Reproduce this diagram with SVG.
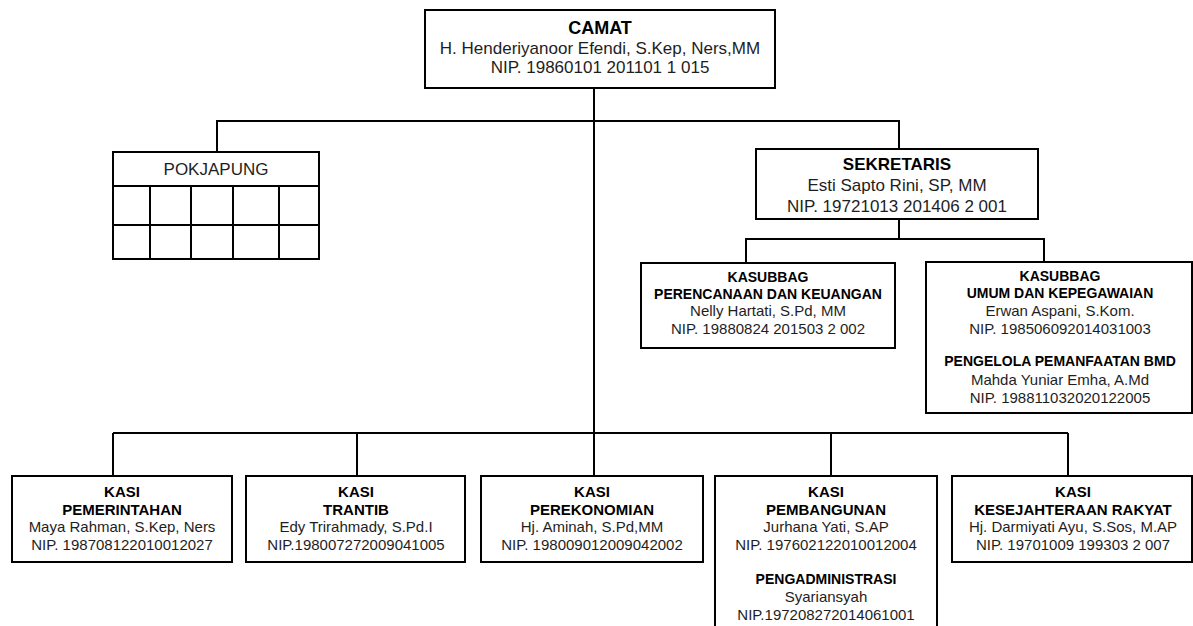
<svg xmlns="http://www.w3.org/2000/svg" width="1193" height="626" viewBox="0 0 1193 626">
<style>
.box{fill:#fff;stroke:#000;stroke-width:2}
.ln{fill:none;stroke:#000;stroke-width:2}
text{font-family:"Liberation Sans",Arial,sans-serif;text-anchor:middle;fill:#1e1e1e}
.b{font-weight:bold;fill:#000}
.r17{font-size:17px}
.r15{font-size:15px}
.b18{font-size:18px}
.b17{font-size:17px}
.b15{font-size:15px}
.b14{font-size:14px}
</style>
<rect width="1193" height="626" fill="#fff"/>
<g id="connectors">
<path class="ln" d="M594 88V433"/>
<path class="ln" d="M217 152V121H899V149"/>
<path class="ln" d="M899 219V239"/>
<path class="ln" d="M746 263V239H1044V262"/>
<path class="ln" d="M113 433H1068"/>
<path class="ln" d="M113 433V476M357 433V476M594 433V476M831 433V476M1068 433V476"/>
</g>
<g id="camat">
<rect class="box" x="425" y="10" width="350" height="78"/>
<text class="b b18" x="600" y="34">CAMAT</text>
<text class="r17" x="600" y="54">H. Henderiyanoor Efendi, S.Kep, Ners,MM</text>
<text class="r17" x="600" y="73">NIP. 19860101 201101 1 015</text>
</g>
<g id="pokjapung">
<rect class="box" x="113" y="152" width="206" height="107"/>
<path class="ln" d="M113 186H319M113 225H319M150 186V259M191 186V259M233 186V259M279 186V259"/>
<text class="r17" x="216" y="175">POKJAPUNG</text>
</g>
<g id="sekretaris">
<rect class="box" x="756" y="149" width="282" height="70"/>
<text class="b b17" x="897" y="170">SEKRETARIS</text>
<text class="r17" x="897" y="191">Esti Sapto Rini, SP, MM</text>
<text class="r17" x="897" y="212">NIP. 19721013 201406 2 001</text>
</g>
<g id="kasubbag-perencanaan">
<rect class="box" x="641" y="263" width="254" height="85"/>
<text class="b b14" x="768" y="282">KASUBBAG</text>
<text class="b b14" x="768" y="299">PERENCANAAN DAN KEUANGAN</text>
<text class="r15" x="768" y="316">Nelly Hartati, S.Pd, MM</text>
<text class="r15" x="768" y="334">NIP. 19880824 201503 2 002</text>
</g>
<g id="kasubbag-umum">
<rect class="box" x="926" y="262" width="266" height="151"/>
<text class="b b14" x="1060" y="281">KASUBBAG</text>
<text class="b b14" x="1060" y="298">UMUM DAN KEPEGAWAIAN</text>
<text class="r15" x="1060" y="316">Erwan Aspani, S.Kom.</text>
<text class="r15" x="1060" y="334">NIP. 198506092014031003</text>
<text class="b b14" x="1060" y="366">PENGELOLA PEMANFAATAN BMD</text>
<text class="r15" x="1060" y="385">Mahda Yuniar Emha, A.Md</text>
<text class="r15" x="1060" y="403">NIP. 198811032020122005</text>
</g>
<g id="kasi-pemerintahan">
<rect class="box" x="12" y="476" width="220" height="86"/>
<text class="b b15" x="122" y="497">KASI</text>
<text class="b b15" x="122" y="514.5">PEMERINTAHAN</text>
<text class="r15" x="122" y="532">Maya Rahman, S.Kep, Ners</text>
<text class="r15" x="122" y="550">NIP. 198708122010012027</text>
</g>
<g id="kasi-trantib">
<rect class="box" x="246" y="476" width="219" height="86"/>
<text class="b b15" x="356" y="497">KASI</text>
<text class="b b15" x="356" y="514.5">TRANTIB</text>
<text class="r15" x="356" y="532">Edy Trirahmady, S.Pd.I</text>
<text class="r15" x="356" y="550">NIP.198007272009041005</text>
</g>
<g id="kasi-perekonomian">
<rect class="box" x="481" y="476" width="222" height="86"/>
<text class="b b15" x="592" y="497">KASI</text>
<text class="b b15" x="592" y="514.5">PEREKONOMIAN</text>
<text class="r15" x="592" y="532">Hj. Aminah, S.Pd,MM</text>
<text class="r15" x="592" y="550">NIP. 198009012009042002</text>
</g>
<g id="kasi-pembangunan">
<rect class="box" x="715" y="476" width="222" height="160"/>
<text class="b b15" x="826" y="497">KASI</text>
<text class="b b15" x="826" y="514.5">PEMBANGUNAN</text>
<text class="r15" x="826" y="532">Jurhana Yati, S.AP</text>
<text class="r15" x="826" y="550">NIP. 197602122010012004</text>
<text class="b b14" x="826" y="584">PENGADMINISTRASI</text>
<text class="r15" x="826" y="602">Syariansyah</text>
<text class="r15" x="826" y="620">NIP.197208272014061001</text>
</g>
<g id="kasi-kesejahteraan">
<rect class="box" x="952" y="476" width="240" height="86"/>
<text class="b b15" x="1073" y="497">KASI</text>
<text class="b b15" x="1073" y="514.5">KESEJAHTERAAN RAKYAT</text>
<text class="r15" x="1073" y="532">Hj. Darmiyati Ayu, S.Sos, M.AP</text>
<text class="r15" x="1073" y="550">NIP. 19701009 199303 2 007</text>
</g>
</svg>
